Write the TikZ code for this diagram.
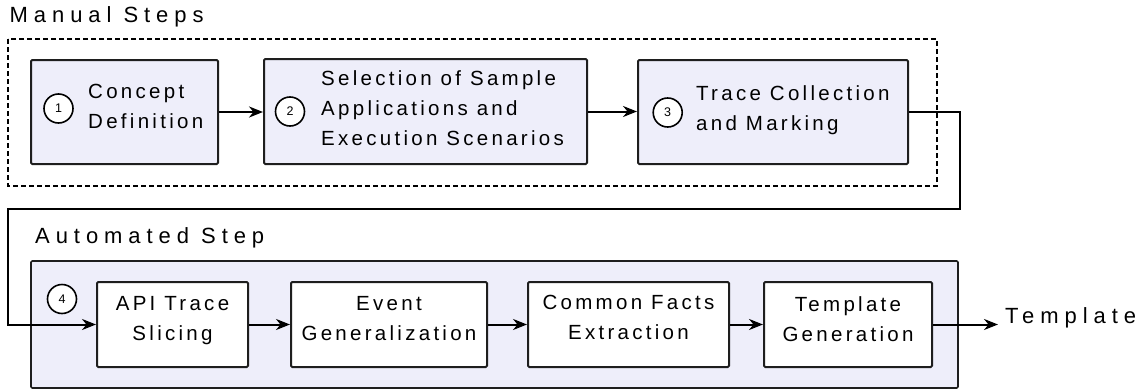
\documentclass[tikz,border=0pt]{standalone}
\usepackage{fontspec}
\setmainfont{Liberation Sans}
\newfontfamily\boxfont[LetterSpace=16]{Liberation Sans}
\newfontfamily\headfont[LetterSpace=27]{Liberation Sans}
\usetikzlibrary{arrows.meta}
\definecolor{stepfill}{RGB}{238,238,250}
\definecolor{edgegray}{RGB}{30,30,30}
\tikzset{
  stepbox/.style={draw=edgegray, line width=2pt, rounded corners=1.2pt, inner sep=0pt},
  manualbox/.style={stepbox, fill=stepfill},
  autobox/.style={stepbox, fill=white},
  steptext/.style={inner sep=0pt, font=\boxfont\fontsize{20.5}{30}\selectfont},
  headtext/.style={inner sep=0pt, anchor=base west, font=\headfont\fontsize{22}{26}\selectfont},
  stepnum/.style={circle, draw=black, line width=1.6pt, fill=white, minimum size=29pt,
    inner sep=0pt, font=\fontsize{12.5}{13}\selectfont},
  flow/.style={line width=2pt, -{Stealth[length=14pt,width=11pt,inset=4.5pt]}},
}
\begin{document}
\begin{tikzpicture}[x=1pt,y=-1pt]
  \useasboundingbox (0,0) rectangle (1143,391);

  % ---- manual part ----
  \node[headtext] (mhead) at (9.5,22.7) {Manual Steps};
  \draw[line width=2pt, dash pattern=on 5pt off 3pt] (8,39) rectangle (937,186);

  \node[manualbox, minimum width=187pt, minimum height=104pt] (s1) at (124.5,112) {};
  \node[manualbox, minimum width=323pt, minimum height=105pt] (s2) at (425.5,111.5) {};
  \node[manualbox, minimum width=270pt, minimum height=104pt] (s3) at (773,112) {};

  \node[steptext, anchor=north west, align=left] (t1) at (88,84.3) {Concept\\Definition};
  \node[steptext, anchor=north west, align=left] (t2) at (321,70) {Selection of Sample\\Applications and\\Execution Scenarios};
  \node[steptext, anchor=north west, align=left] (t3) at (696,85) {Trace Collection\\and Marking};

  \node[stepnum] (n1) at (58.5,108.5) {1};
  \node[stepnum] (n2) at (290,111.5) {2};
  \node[stepnum] (n3) at (667.7,112.5) {3};

  \draw[flow] (s1.east) -- (s1.east -| s2.west);
  \draw[flow] (s2.east) -- (s2.east -| s3.west);

  % ---- automated part ----
  \node[headtext] (ahead) at (35,243) {Automated Step};
  \node[stepbox, line width=1.6pt, fill=stepfill, minimum width=927pt, minimum height=127pt] (auto) at (494.5,324.5) {};

  \node[autobox, minimum width=151pt, minimum height=85pt] (a1) at (172.5,324.5) {};
  \node[autobox, minimum width=196pt, minimum height=85pt] (a2) at (389,324.5) {};
  \node[autobox, minimum width=201pt, minimum height=85pt] (a3) at (628.5,324.5) {};
  \node[autobox, minimum width=168pt, minimum height=85pt] (a4) at (848,324.5) {};

  \node[steptext, anchor=north, align=center] (u1) at ([yshift=-15pt]a1.north) {API Trace\\Slicing};
  \node[steptext, anchor=north, align=center] (u2) at ([yshift=-15pt]a2.north) {Event\\Generalization};
  \node[steptext, anchor=north, align=center] (u3) at ([yshift=-14pt]a3.north) {Common Facts\\Extraction};
  \node[steptext, anchor=north, align=center] (u4) at ([yshift=-15pt]a4.north) {Template\\Generation};

  \node[stepnum] (n4) at (62,299) {4};

  \draw[flow] (a1.east) -- (a1.east -| a2.west);
  \draw[flow] (a2.east) -- (a2.east -| a3.west);
  \draw[flow] (a3.east) -- (a3.east -| a4.west);

  % ---- hand-over from manual to automated ----
  \coordinate (turnright) at (960,208.5);
  \coordinate (turnleft) at (8,208.5);
  \draw[flow] (s3.east) -- (s3.east -| turnright) |- (turnleft) |- (a1.west);

  % ---- output ----
  \node[headtext, inner xsep=7pt] (out) at (998,323) {Template};
  \draw[flow] (a4.east) -- (a4.east -| out.west);
\end{tikzpicture}
\end{document}
